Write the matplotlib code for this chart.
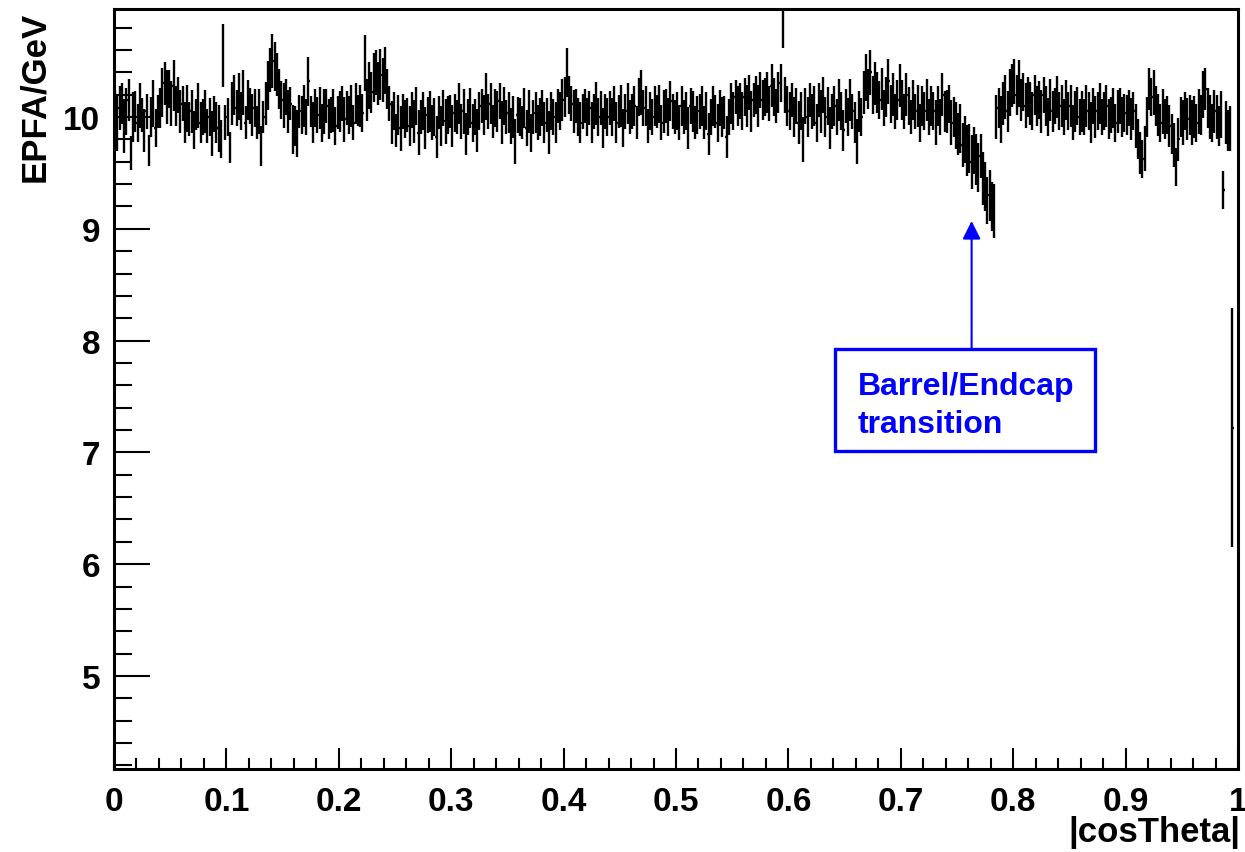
import numpy as np
import matplotlib
matplotlib.use("Agg")
import matplotlib.pyplot as plt
from matplotlib.patches import Rectangle
from matplotlib.ticker import MultipleLocator

plt.rcParams['font.family'] = ['Liberation Sans', 'DejaVu Sans']
plt.rcParams['font.weight'] = 'bold'

# Histogram binning: 500 bins in |cos(theta)| from 0 to 1
x_low, x_high, n_bins = 0.0, 1.0, 500

# Mean reconstructed PFO energy per bin (GeV)
epfa_mean = [
    10.02, 9.95, 10.08, 10.12, 9.92, 10.05, 10.15, 9.68, 10.00, 10.05,
    9.95, 10.10, 10.02, 9.88, 10.05, 9.70, 10.00, 10.12, 9.90, 10.05,
    10.08, 10.22, 10.30, 10.18, 10.25, 10.12, 10.28, 10.10, 10.20, 10.05,
    10.12, 9.95, 10.08, 9.98, 10.05, 9.88, 10.02, 10.10, 9.95, 10.00,
    10.05, 9.92, 10.00, 9.85, 10.03, 9.95, 9.90, 9.80, 10.55, 9.95,
    10.00, 9.73, 10.12, 10.20, 10.08, 10.18, 10.05, 10.22, 9.95, 10.15,
    10.10, 10.02, 10.08, 9.95, 10.05, 9.74, 10.00, 10.12, 10.28, 10.42,
    10.50, 10.45, 10.38, 10.25, 10.15, 10.10, 10.18, 10.05, 10.12, 9.89,
    9.92, 9.85, 10.05, 10.02, 10.10, 10.00, 10.32, 10.05, 9.95, 10.08,
    10.02, 10.08, 9.95, 10.05, 10.10, 9.98, 10.02, 10.06, 9.92, 10.04,
    10.05, 10.12, 9.98, 10.08, 10.02, 10.10, 9.95, 10.12, 10.06, 10.10,
    10.04, 10.48, 10.15, 10.28, 10.22, 10.35, 10.40, 10.30, 10.38, 10.33,
    10.42, 10.25, 10.12, 9.95, 10.05, 9.88, 10.02, 9.90, 10.05, 9.98,
    10.02, 9.92, 10.06, 9.96, 10.10, 9.86, 10.00, 10.05, 9.90, 10.02,
    10.05, 9.95, 10.00, 9.82, 10.04, 9.92, 10.08, 9.96, 10.02, 10.05,
    9.92, 10.04, 10.00, 10.12, 9.96, 10.05, 9.85, 10.00, 10.08, 9.95,
    10.00, 9.88, 10.05, 10.10, 10.02, 10.18, 10.05, 10.12, 9.96, 10.08,
    10.05, 10.14, 9.95, 10.10, 10.00, 10.04, 9.92, 10.00, 9.78, 10.02,
    10.00, 9.95, 10.08, 9.90, 10.05, 9.86, 10.00, 10.04, 9.95, 10.00,
    10.08, 9.95, 10.02, 9.86, 10.05, 10.00, 9.95, 10.10, 10.05, 10.15,
    10.18, 10.40, 10.20, 10.12, 10.05, 10.10, 10.00, 9.95, 10.05, 10.10,
    10.00, 10.08, 9.95, 10.05, 10.12, 10.00, 10.08, 9.90, 10.05, 10.00,
    10.08, 10.00, 10.12, 9.95, 10.05, 10.10, 9.90, 10.05, 10.12, 10.00,
    10.05, 10.10, 9.95, 10.18, 10.22, 10.08, 10.10, 9.92, 10.05, 10.00,
    10.10, 10.05, 10.12, 9.95, 10.05, 10.10, 10.00, 10.14, 10.05, 10.00,
    10.05, 9.95, 10.10, 10.00, 10.05, 9.90, 10.10, 10.05, 9.95, 10.02,
    10.05, 10.10, 9.95, 10.05, 9.85, 10.00, 10.10, 10.05, 9.95, 10.08,
    10.00, 10.04, 9.82, 10.00, 10.12, 10.05, 10.18, 10.10, 10.14, 10.05,
    10.18, 10.10, 10.22, 10.05, 10.15, 10.20, 10.10, 10.24, 10.15, 10.18,
    10.22, 10.12, 10.28, 10.18, 10.10, 10.22, 10.30, 10.82, 10.20, 10.10,
    10.05, 10.15, 10.00, 10.10, 9.95, 10.05, 9.80, 10.10, 10.00, 10.15,
    10.05, 10.10, 9.95, 10.15, 10.05, 10.20, 10.00, 10.10, 9.90, 10.05,
    10.10, 10.00, 10.15, 10.05, 9.88, 10.10, 10.00, 10.15, 10.05, 9.95,
    9.78, 10.05, 10.00, 10.22, 10.35, 10.25, 10.40, 10.20, 10.30, 10.22,
    10.15, 10.25, 10.08, 10.18, 10.32, 10.12, 10.20, 10.05, 10.15, 10.28,
    10.15, 10.05, 10.20, 10.10, 10.00, 10.15, 10.05, 10.10, 9.95, 10.10,
    10.05, 10.15, 10.00, 10.10, 10.05, 9.95, 10.10, 10.00, 10.20, 10.05,
    10.05, 10.12, 9.95, 10.00, 9.92, 9.85, 9.90, 9.75, 9.80, 9.70,
    9.72, 9.60, 9.70, 9.62, 9.55, 9.65, 9.45, 9.38, 9.25, 9.30,
    9.20, 9.16, 10.00, 10.08, 9.98, 10.12, 10.18, 10.05, 10.22, 10.28,
    10.32, 10.20, 10.30, 10.15, 10.22, 10.10, 10.18, 10.12, 10.05, 10.20,
    10.10, 10.15, 10.05, 10.20, 10.10, 10.00, 10.15, 10.05, 10.10, 10.18,
    10.05, 10.10, 10.00, 10.15, 10.05, 10.10, 9.95, 10.05, 10.10, 10.00,
    10.05, 10.00, 10.10, 10.05, 9.95, 10.10, 10.00, 10.05, 10.12, 10.00,
    10.05, 10.10, 9.98, 10.02, 10.08, 9.95, 10.05, 10.10, 10.00, 10.04,
    10.02, 10.08, 9.98, 10.05, 9.92, 9.80, 9.68, 9.62, 9.72, 10.00,
    10.25, 10.18, 10.22, 10.10, 10.02, 9.95, 10.05, 9.98, 10.02, 9.92,
    9.85, 9.75, 9.55, 9.80, 10.00, 9.95, 10.05, 9.98, 10.02, 9.95,
    10.00, 9.95, 10.05, 10.02, 10.20, 10.25, 10.08, 10.00, 9.95, 10.05,
    10.00, 9.92, 10.02, 9.35, 9.95, 9.88, 9.90, 7.22, np.nan, np.nan,
]

# Statistical uncertainty on the mean per bin (GeV)
epfa_err = [
    0.22, 0.25, 0.20, 0.18, 0.24, 0.21, 0.19, 0.15, 0.22, 0.18,
    0.17, 0.20, 0.15, 0.19, 0.16, 0.14, 0.18, 0.21, 0.17, 0.15,
    0.18, 0.22, 0.19, 0.24, 0.17, 0.20, 0.23, 0.18, 0.16, 0.19,
    0.16, 0.18, 0.21, 0.15, 0.19, 0.17, 0.14, 0.20, 0.18, 0.16,
    0.19, 0.15, 0.17, 0.20, 0.16, 0.18, 0.21, 0.17, 0.28, 0.16,
    0.17, 0.14, 0.19, 0.18, 0.16, 0.21, 0.17, 0.20, 0.15, 0.18,
    0.16, 0.19, 0.17, 0.15, 0.20, 0.18, 0.14, 0.19, 0.22, 0.20,
    0.24, 0.22, 0.19, 0.18, 0.17, 0.20, 0.16, 0.19, 0.15, 0.22,
    0.18, 0.21, 0.15, 0.17, 0.19, 0.16, 0.22, 0.14, 0.18, 0.17,
    0.16, 0.19, 0.17, 0.20, 0.15, 0.18, 0.16, 0.19, 0.17, 0.15,
    0.18, 0.16, 0.20, 0.15, 0.17, 0.19, 0.16, 0.18, 0.14, 0.19,
    0.17, 0.25, 0.19, 0.21, 0.18, 0.22, 0.20, 0.19, 0.23, 0.20,
    0.21, 0.18, 0.16, 0.19, 0.17, 0.15, 0.18, 0.20, 0.16, 0.17,
    0.15, 0.18, 0.16, 0.19, 0.17, 0.20, 0.15, 0.17, 0.19, 0.16,
    0.18, 0.16, 0.17, 0.19, 0.15, 0.18, 0.16, 0.20, 0.17, 0.15,
    0.19, 0.17, 0.15, 0.18, 0.16, 0.20, 0.19, 0.16, 0.18, 0.17,
    0.16, 0.19, 0.17, 0.15, 0.18, 0.21, 0.16, 0.18, 0.15, 0.17,
    0.18, 0.16, 0.19, 0.17, 0.15, 0.18, 0.16, 0.19, 0.20, 0.16,
    0.17, 0.15, 0.18, 0.16, 0.19, 0.17, 0.15, 0.18, 0.16, 0.17,
    0.16, 0.18, 0.15, 0.19, 0.17, 0.16, 0.18, 0.15, 0.17, 0.19,
    0.18, 0.22, 0.17, 0.16, 0.19, 0.15, 0.17, 0.18, 0.16, 0.15,
    0.17, 0.15, 0.18, 0.16, 0.19, 0.17, 0.15, 0.18, 0.16, 0.17,
    0.15, 0.17, 0.16, 0.18, 0.15, 0.19, 0.17, 0.16, 0.18, 0.15,
    0.16, 0.18, 0.15, 0.17, 0.20, 0.16, 0.18, 0.15, 0.17, 0.16,
    0.18, 0.15, 0.17, 0.16, 0.19, 0.15, 0.17, 0.18, 0.16, 0.15,
    0.17, 0.16, 0.18, 0.15, 0.17, 0.19, 0.16, 0.18, 0.15, 0.17,
    0.16, 0.18, 0.15, 0.17, 0.19, 0.16, 0.18, 0.15, 0.17, 0.16,
    0.18, 0.15, 0.19, 0.16, 0.18, 0.17, 0.15, 0.18, 0.16, 0.17,
    0.17, 0.19, 0.16, 0.18, 0.15, 0.17, 0.19, 0.16, 0.18, 0.17,
    0.18, 0.16, 0.19, 0.17, 0.15, 0.18, 0.17, 0.20, 0.16, 0.18,
    0.17, 0.15, 0.18, 0.16, 0.19, 0.17, 0.20, 0.16, 0.18, 0.15,
    0.16, 0.18, 0.17, 0.15, 0.19, 0.16, 0.18, 0.17, 0.19, 0.16,
    0.18, 0.16, 0.19, 0.17, 0.18, 0.15, 0.17, 0.19, 0.16, 0.18,
    0.20, 0.18, 0.17, 0.19, 0.21, 0.18, 0.20, 0.17, 0.19, 0.18,
    0.17, 0.19, 0.16, 0.18, 0.20, 0.17, 0.19, 0.16, 0.18, 0.19,
    0.18, 0.16, 0.19, 0.17, 0.15, 0.18, 0.16, 0.19, 0.17, 0.18,
    0.17, 0.19, 0.16, 0.18, 0.17, 0.20, 0.18, 0.16, 0.19, 0.18,
    0.19, 0.17, 0.20, 0.18, 0.21, 0.19, 0.22, 0.20, 0.21, 0.23,
    0.22, 0.24, 0.21, 0.23, 0.22, 0.20, 0.24, 0.22, 0.21, 0.23,
    0.22, 0.24, 0.20, 0.18, 0.21, 0.19, 0.20, 0.18, 0.21, 0.19,
    0.20, 0.18, 0.21, 0.19, 0.17, 0.20, 0.18, 0.19, 0.17, 0.18,
    0.18, 0.17, 0.19, 0.16, 0.18, 0.17, 0.19, 0.18, 0.16, 0.19,
    0.17, 0.19, 0.16, 0.18, 0.17, 0.19, 0.16, 0.18, 0.17, 0.16,
    0.18, 0.16, 0.19, 0.17, 0.18, 0.16, 0.19, 0.17, 0.18, 0.16,
    0.17, 0.19, 0.18, 0.16, 0.18, 0.17, 0.19, 0.16, 0.18, 0.17,
    0.18, 0.16, 0.19, 0.17, 0.20, 0.18, 0.19, 0.17, 0.20, 0.18,
    0.19, 0.17, 0.20, 0.18, 0.19, 0.17, 0.20, 0.18, 0.17, 0.19,
    0.18, 0.20, 0.17, 0.19, 0.18, 0.20, 0.17, 0.19, 0.18, 0.20,
    0.19, 0.17, 0.20, 0.18, 0.21, 0.19, 0.18, 0.20, 0.17, 0.19,
    0.20, 0.18, 0.21, 0.17, 0.19, 0.18, 0.20, 1.07, np.nan, np.nan,
]

x_ticks = [0.0, 0.1, 0.2, 0.3, 0.4, 0.5, 0.6, 0.7, 0.8, 0.9, 1.0]
x_tick_labels = ["0", "0.1", "0.2", "0.3", "0.4", "0.5", "0.6", "0.7", "0.8", "0.9", "1"]
y_ticks = [5, 6, 7, 8, 9, 10]
y_tick_labels = ["5", "6", "7", "8", "9", "10"]
y_range = (4.168, 10.966)

x_label = "|cosTheta|"
y_label = "EPFA/GeV"
note_lines = ["Barrel/Endcap", "transition"]
note_x = 0.662
note_baselines = [7.522, 7.182]
arrow_x = 0.763
arrow_tip_y = 9.07
arrow_base_y = 7.925
box_x = (0.6415, 0.8728)
box_y = (7.015, 7.925)

edges = np.linspace(x_low, x_high, n_bins + 1)
centers = 0.5 * (edges[:-1] + edges[1:])
half_width = 0.5 * (edges[1] - edges[0])
mean = np.array(epfa_mean, dtype=float)
err = np.array(epfa_err, dtype=float)

W, H = 1245, 853
fig = plt.figure(figsize=(W / 100, H / 100), dpi=100)
ax = fig.add_axes([114 / W, 1 - 770 / H, (1238 - 114) / W, (770 - 10) / H])

ax.errorbar(centers, mean, yerr=err, xerr=half_width, fmt='none',
            ecolor='black', elinewidth=1.7, capsize=0)

ax.set_xlim(x_low, x_high)
ax.set_ylim(*y_range)

ax.set_xticks(x_ticks)
ax.set_xticklabels(x_tick_labels)
ax.set_yticks(y_ticks)
ax.set_yticklabels(y_tick_labels)
ax.xaxis.set_minor_locator(MultipleLocator(0.02))
ax.yaxis.set_minor_locator(MultipleLocator(0.2))

ax.tick_params(axis='both', which='both', direction='in', top=False, right=False,
               labelsize=24, colors='black', width=1.5)
ax.tick_params(axis='y', which='major', length=26, pad=10)
ax.tick_params(axis='y', which='minor', length=13)
ax.tick_params(axis='x', which='major', length=15, pad=12)
ax.tick_params(axis='x', which='minor', length=8)
for lbl in ax.get_xticklabels() + ax.get_yticklabels():
    lbl.set_fontweight('bold')

for side in ax.spines.values():
    side.set_linewidth(2.2)
    side.set_color('black')

fig.text(1240 / W, 1 - 833 / H, x_label, ha='right', va='center',
         fontsize=25, fontweight='bold')
fig.text(35 / W, 1 - 12 / H, y_label, ha='center', va='top', rotation=90,
         fontsize=25, fontweight='bold')

blue = (0.0, 0.0, 1.0)
ax.add_patch(Rectangle((box_x[0], box_y[0]), box_x[1] - box_x[0], box_y[1] - box_y[0],
                       fill=False, edgecolor=blue, linewidth=2.4, zorder=5))
for line, yb in zip(note_lines, note_baselines):
    ax.text(note_x, yb, line, color=blue, fontsize=23, fontweight='bold',
            ha='left', va='baseline', zorder=6)
ax.annotate('', xy=(arrow_x, arrow_tip_y), xytext=(arrow_x, arrow_base_y),
            arrowprops=dict(arrowstyle='-|>,head_length=1.1,head_width=0.55',
                            mutation_scale=10, color=blue, lw=1.5,
                            shrinkA=0, shrinkB=0), zorder=6)

fig.savefig("out.png", dpi=100, facecolor='white')
